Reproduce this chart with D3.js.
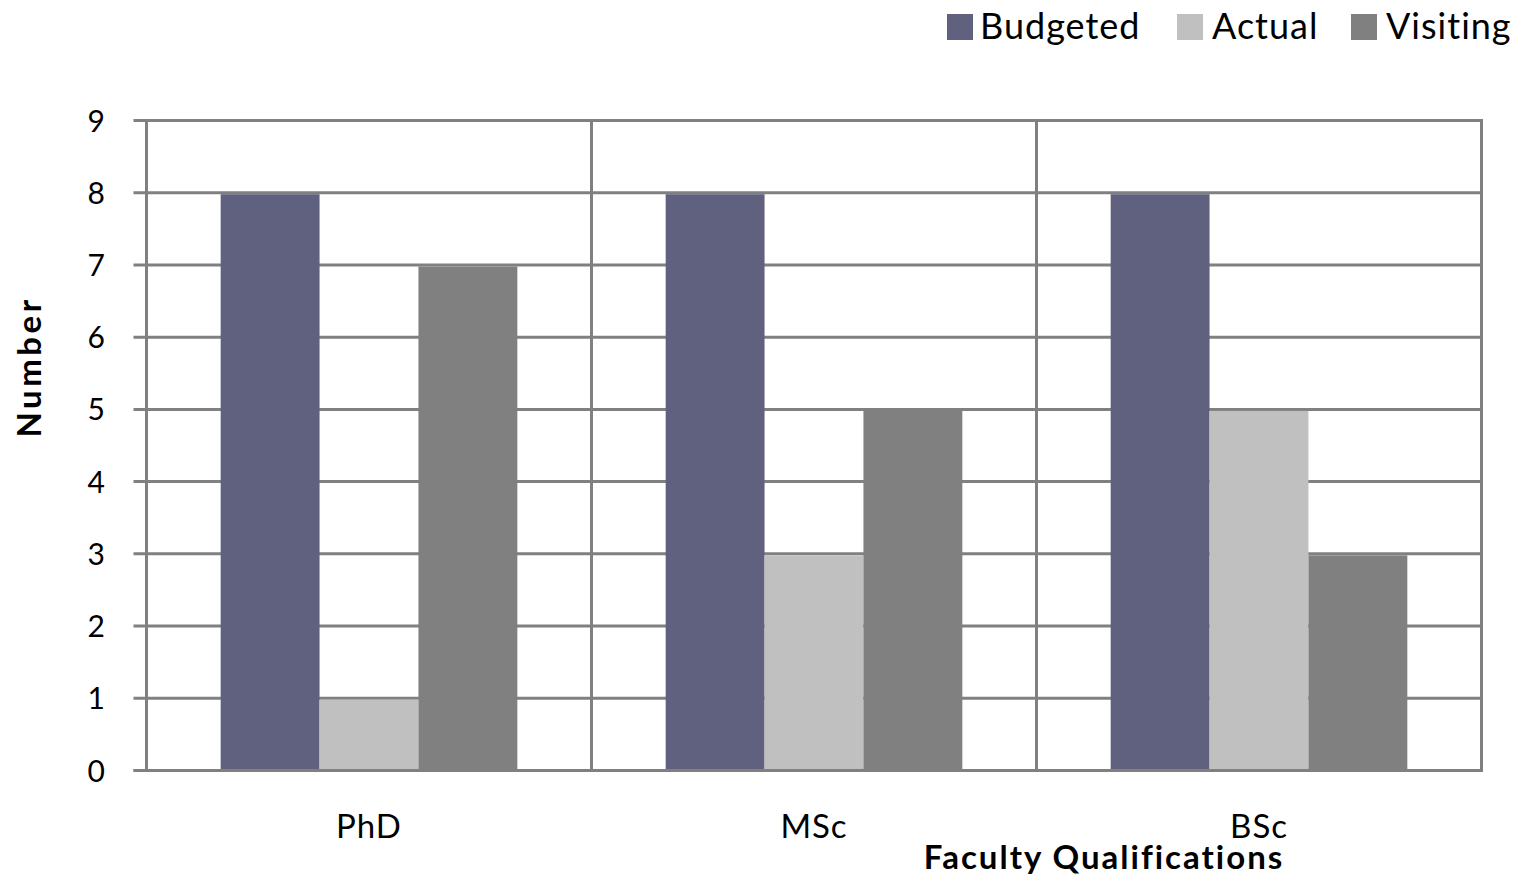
<!DOCTYPE html>
<html>
  <head>
    <title>Faculty Qualifications</title>
    <script src="https://d3js.org/d3.v7.min.js"></script>
    <style>
      body { margin: 0; background: #fff; }
      text { font-family: Lato, "Open Sans", sans-serif; fill: #000; }
    </style>
  </head>
  <body>
    <div id="chart"></div>
    <script>
      var categories = ['PhD', 'MSc', 'BSc'];
      var series = ['Budgeted', 'Actual', 'Visiting'];
      var budgeted = [8, 8, 8];
      var actual = [1, 3, 5];
      var visiting = [7, 5, 3];
      var yTicks = [0, 1, 2, 3, 4, 5, 6, 7, 8, 9];
      var colors = ['#60607f', '#c0c0c0', '#808080'];

      var values = [budgeted, actual, visiting];

      var svg = d3.select('#chart')
        .append('svg')
        .attr('width', 1514)
        .attr('height', 877);

      var plotLeft = 146.5, plotRight = 1481.5, plotTop = 120.5, plotBottom = 770.5;

      var x0 = d3.scaleBand().domain(categories).range([plotLeft, plotRight]);
      var x1 = d3.scaleBand().domain(series).range([0, x0.bandwidth()]).paddingOuter(0.75);
      var y = d3.scaleLinear().domain([0, 9]).range([plotBottom, plotTop]);

      // horizontal grid + ticks
      svg.append('g')
        .selectAll('line')
        .data(yTicks)
        .enter().append('line')
        .attr('x1', plotLeft - 13)
        .attr('x2', plotRight)
        .attr('y1', function (d) { return y(d); })
        .attr('y2', function (d) { return y(d); })
        .attr('stroke', '#808080')
        .attr('stroke-width', 3);

      // vertical separators
      svg.append('g')
        .selectAll('line')
        .data(categories.slice(1).concat(['end']))
        .enter().append('line')
        .attr('x1', function (d) { return d === 'end' ? plotRight : x0(d); })
        .attr('x2', function (d) { return d === 'end' ? plotRight : x0(d); })
        .attr('y1', plotTop - 1.5)
        .attr('y2', plotBottom)
        .attr('stroke', '#808080')
        .attr('stroke-width', 3);

      // bars
      var groups = svg.append('g')
        .selectAll('g')
        .data(categories)
        .enter().append('g')
        .attr('transform', function (d) { return 'translate(' + x0(d) + ',0)'; });

      groups.selectAll('rect')
        .data(function (d, i) {
          return series.map(function (s, j) { return { s: s, v: values[j][i], c: colors[j] }; });
        })
        .enter().append('rect')
        .attr('x', function (d) { return x1(d.s); })
        .attr('width', x1.bandwidth())
        .attr('y', function (d) { return y(d.v) + 1.5; })
        .attr('height', function (d) { return y(0) - y(d.v) - 3; })
        .attr('fill', function (d) { return d.c; });

      // left axis line and bottom
      svg.append('line')
        .attr('x1', plotLeft).attr('x2', plotLeft)
        .attr('y1', plotTop - 1.5).attr('y2', plotBottom + 1.5)
        .attr('stroke', '#808080').attr('stroke-width', 3);
      svg.append('line')
        .attr('x1', plotLeft - 13).attr('x2', plotRight + 1.5)
        .attr('y1', plotBottom).attr('y2', plotBottom)
        .attr('stroke', '#808080').attr('stroke-width', 3);

      // tick labels
      svg.append('g')
        .selectAll('text')
        .data(yTicks)
        .enter().append('text')
        .attr('x', 105)
        .attr('y', function (d) { return y(d) + 11; })
        .attr('text-anchor', 'end')
        .style('font-size', '30px')
        .text(function (d) { return d; });

      // category labels
      svg.append('g')
        .selectAll('text')
        .data(categories)
        .enter().append('text')
        .attr('x', function (d) { return x0(d) + x0.bandwidth() / 2; })
        .attr('y', 838)
        .attr('text-anchor', 'middle')
        .style('font-size', '33px')
        .style('letter-spacing', '1px')
        .text(function (d) { return d; });

      // axis titles
      svg.append('text')
        .attr('x', 1104)
        .attr('y', 869)
        .attr('text-anchor', 'middle')
        .style('font-size', '33px')
        .style('font-weight', 'bold')
        .style('letter-spacing', '2px')
        .text('Faculty Qualifications');

      svg.append('text')
        .attr('transform', 'translate(41,367) rotate(-90)')
        .attr('text-anchor', 'middle')
        .style('font-size', '33px')
        .style('font-weight', 'bold')
        .style('letter-spacing', '3.5px')
        .text('Number');

      // legend
      var legendX = [947, 1177, 1351];
      var legend = svg.append('g')
        .selectAll('g')
        .data(series)
        .enter().append('g')
        .attr('transform', function (d, i) { return 'translate(' + legendX[i] + ',14)'; });
      legend.append('rect')
        .attr('width', 26).attr('height', 26)
        .attr('fill', function (d, i) { return colors[i]; });
      legend.append('text')
        .attr('x', function (d, i) { return i === 0 ? 33 : 35; })
        .attr('y', 25)
        .style('font-size', '36px')
        .style('letter-spacing', '1px')
        .text(function (d) { return d; });
    </script>
  </body>
</html>
